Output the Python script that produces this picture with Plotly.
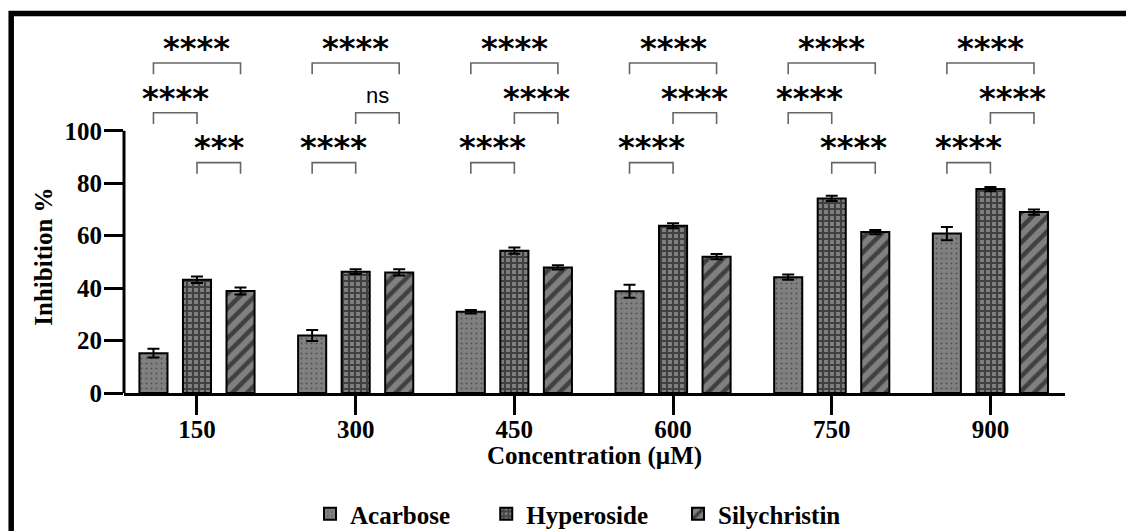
import plotly.graph_objects as go

# Alpha-glucosidase inhibition (%) by concentration, mean and error
concentrations = ["150", "300", "450", "600", "750", "900"]
series_names = ["Acarbose", "Hyperoside", "Silychristin"]
acarbose = [15.2, 21.9, 31.0, 38.8, 44.2, 60.8]
acarbose_err = [1.7, 2.1, 0.7, 2.5, 1.0, 2.5]
hyperoside = [43.2, 46.3, 54.3, 63.8, 74.2, 77.8]
hyperoside_err = [1.2, 0.9, 1.2, 1.0, 1.0, 0.8]
silychristin = [38.9, 46.0, 47.9, 52.0, 61.4, 69.0]
silychristin_err = [1.3, 1.2, 0.8, 1.0, 0.8, 1.0]

# Significance labels for each pairwise comparison within a concentration
sig_acarbose_silychristin = ["****", "****", "****", "****", "****", "****"]
sig_acarbose_hyperoside = ["****", "****", "****", "****", "****", "****"]
sig_hyperoside_silychristin = ["***", "ns", "****", "****", "****", "****"]

# Bracket row used by each comparison (0 = lowest, 2 = highest)
row_acarbose_hyperoside = [1, 0, 0, 0, 1, 0]
row_hyperoside_silychristin = [0, 1, 1, 1, 0, 1]
row_acarbose_silychristin = [2, 2, 2, 2, 2, 2]

# ---- styling ----
W, H = 1126, 531
M_L, M_R, M_T, M_B = 124, 61, 25.6, 137.7
Y_MAX = 140
BARGAP = 0.177
BARGROUPGAP = 0.355
GRAY = "#808080"
SERIF = "Liberation Serif"
FS = 25
NBSP = "\u00a0"
legend_pad = [5, 4, 0]  # extra spacing after each legend entry

plot_w = W - M_L - M_R
plot_h = H - M_T - M_B


def px_to_paper_x(px):
    return (px - M_L) / plot_w


def px_to_paper_y(py):
    return 1 - (py - M_T) / plot_h


patterns = [
    dict(shape=".", bgcolor=GRAY, fgcolor="#222222", size=5, solidity=0.12),
    dict(shape="+", bgcolor=GRAY, fgcolor="#000000", size=6, solidity=0.58),
    dict(shape="/", bgcolor=GRAY, fgcolor="#000000", size=10.5, solidity=0.42),
]
values = [acarbose, hyperoside, silychristin]
errors = [acarbose_err, hyperoside_err, silychristin_err]

fig = go.Figure()
for name, vals, errs, pat, pad in zip(series_names, values, errors, patterns, legend_pad):
    fig.add_trace(go.Bar(
        name=name + NBSP * pad,
        x=concentrations,
        y=vals,
        error_y=dict(type="data", array=errs, symmetric=True,
                     color="black", thickness=2, width=6),
        marker=dict(color=GRAY, line=dict(color="black", width=2),
                    pattern=pat),
    ))

# Significance brackets drawn from bar centres
slot = (1 - BARGAP) / len(series_names)
row_line_y = [87.9, 106.9, 125.9]
leg_len = 4.3
text_gap = 1.2
bracket_color = "#666666"

shapes = []
annotations = []


def add_bracket(ci, a, b, row, label):
    xa = ci + (a - 1) * slot
    xb = ci + (b - 1) * slot
    y = row_line_y[row]
    shapes.append(dict(
        type="path", xref="x", yref="y",
        path=f"M {xa},{y - leg_len} L {xa},{y} L {xb},{y} L {xb},{y - leg_len}",
        line=dict(color=bracket_color, width=1.6),
    ))
    if label == "ns":
        font = dict(family="Liberation Sans", size=22, color="black", weight="normal")
        ty = y + text_gap
    else:
        font = dict(family="DejaVu Sans", size=32, color="black", weight="bold")
        ty = y + text_gap - 3.4
    annotations.append(dict(
        x=(xa + xb) / 2, y=ty, xref="x", yref="y", text=label,
        showarrow=False, xanchor="center", yanchor="bottom", font=font,
    ))


for ci in range(len(concentrations)):
    add_bracket(ci, 0, 2, row_acarbose_silychristin[ci], sig_acarbose_silychristin[ci])
    add_bracket(ci, 0, 1, row_acarbose_hyperoside[ci], sig_acarbose_hyperoside[ci])
    add_bracket(ci, 1, 2, row_hyperoside_silychristin[ci], sig_hyperoside_silychristin[ci])

# y axis line only spans the 0-100 range
shapes.append(dict(type="line", xref="x domain", yref="y", x0=0, x1=0,
                   y0=0, y1=100, line=dict(color="black", width=3)))

# frame along the top and left edges
fx = px_to_paper_x(11.2)
fy = px_to_paper_y(13)
shapes.append(dict(
    type="path", xref="paper", yref="paper",
    path=f"M {fx},{px_to_paper_y(560)} L {fx},{fy} L {px_to_paper_x(1140)},{fy}",
    line=dict(color="black", width=5.5),
))

# axis titles
annotations.append(dict(
    text="Inhibition %", textangle=-90, xref="paper", yref="y",
    x=px_to_paper_x(44), y=52, showarrow=False, xanchor="center", yanchor="middle",
    font=dict(family=SERIF, size=FS, color="black", weight="bold"),
))
annotations.append(dict(
    text="Concentration (\u00b5M)", xref="paper", yref="paper",
    x=0.5, y=px_to_paper_y(456), showarrow=False, xanchor="center", yanchor="middle",
    font=dict(family=SERIF, size=FS, color="black", weight="bold"),
))

fig.update_layout(
    width=W, height=H,
    margin=dict(l=M_L, r=M_R, t=M_T, b=M_B, pad=0, autoexpand=False),
    paper_bgcolor="white", plot_bgcolor="white",
    barmode="group", bargap=BARGAP, bargroupgap=BARGROUPGAP,
    font=dict(family=SERIF, size=FS, color="black", weight="bold"),
    showlegend=True,
    legend=dict(orientation="h", xanchor="left", yanchor="middle",
                xref="paper", yref="container",
                x=px_to_paper_x(310), y=1 - 514 / H,
                font=dict(family=SERIF, size=FS, color="black", weight="bold"),
                bgcolor="rgba(0,0,0,0)"),
    shapes=shapes,
    annotations=annotations,
    xaxis=dict(
        type="category", range=[-0.46, 5.47], automargin=False,
        showline=True, linecolor="black", linewidth=3,
        ticks="outside", ticklen=19, tickwidth=3, tickcolor="black",
        ticklabelstandoff=-7,
        showgrid=False, zeroline=False,
        tickfont=dict(family=SERIF, size=FS, color="black", weight="bold"),
    ),
    yaxis=dict(
        range=[0, Y_MAX], tickvals=[0, 20, 40, 60, 80, 100], automargin=False,
        showline=False, ticks="outside", ticklen=19, tickwidth=3,
        ticklabelstandoff=-3,
        tickcolor="black", showgrid=False, zeroline=False,
        tickfont=dict(family=SERIF, size=FS, color="black", weight="bold"),
    ),
)

fig.write_html("out.html")
